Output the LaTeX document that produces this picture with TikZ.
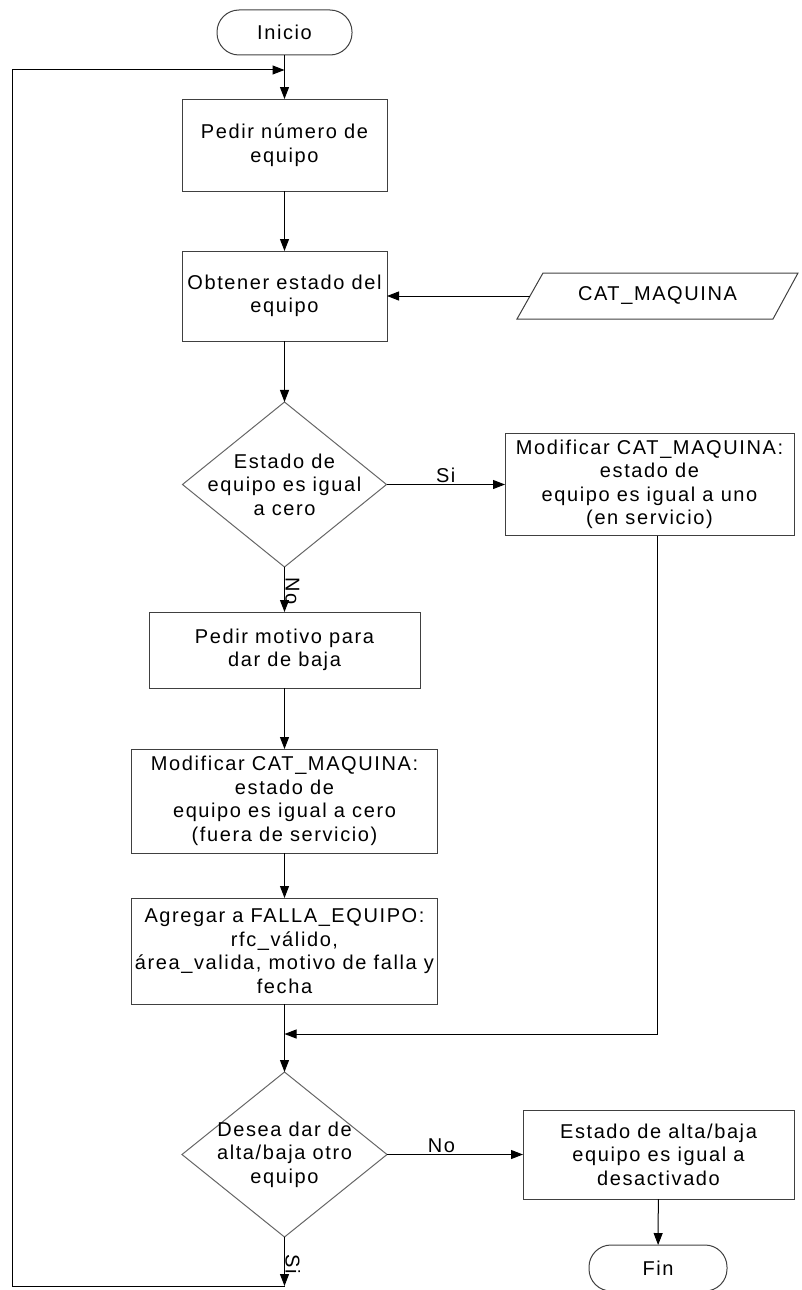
\documentclass[tikz,border=0pt]{standalone}
\usepackage{fontspec}
\setmainfont[LetterSpace=8]{Liberation Sans}
\usetikzlibrary{arrows.meta,shapes.geometric}
\begin{document}
\begin{tikzpicture}[
  x=1pt, y=-1pt,
  every node/.style={font=\fontsize{20pt}{23.5pt}\selectfont, outer sep=0pt},
  stepbox/.style={draw=black!75, line width=1pt, rectangle, align=center, inner sep=2pt},
  termbox/.style={draw=black!75, line width=1pt, rounded corners=22pt, align=center},
  decision/.style={draw=black!60, line width=1pt, diamond, inner sep=0pt},
  flow/.style={draw=black, line width=1pt},
  arr/.style={flow, -{Triangle[length=12pt,width=9pt]}},
  sidelbl/.style={rotate=-90, anchor=south, inner sep=1pt},
  toplbl/.style={above, inner sep=2pt}
]
\useasboundingbox (0,0) rectangle (801,1290);

% start and first steps
\node[termbox, minimum width=135pt, minimum height=45pt] (inicio) at (284.5,32.5) {Inicio};
\node[stepbox, minimum width=205pt, minimum height=92pt] (pedir) at (284.5,145) {Pedir número de\\equipo};
\node[stepbox, minimum width=205pt, minimum height=90pt] (obtener) at (284.5,296) {Obtener estado del\\equipo};

% data input
\draw[draw=black!75, line width=1pt] (543,273) -- (798,273) -- (773,319) -- (517,319) -- cycle;
\node (cat) at (657.5,296) {CAT\_MAQUINA};
\coordinate (catin) at (530,296);

% first decision
\node[decision, minimum width=204pt, minimum height=165pt] (d1) at (284.5,484.5) {};
\node[align=center] (d1t) at (d1) {Estado de\\equipo es igual\\a cero};
\node[stepbox, minimum width=289pt, minimum height=102pt] (alta) at (649.5,484.5) {Modificar CAT\_MAQUINA:\\estado de\\equipo es igual a uno\\(en servicio)};

% "No" branch
\node[stepbox, minimum width=271pt, minimum height=76pt] (motivo) at (284.5,650) {Pedir motivo para\\dar de baja};
\node[stepbox, minimum width=306pt, minimum height=104pt] (baja) at (284.5,801) {Modificar CAT\_MAQUINA:\\estado de\\equipo es igual a cero\\(fuera de servicio)};
\node[stepbox, minimum width=306pt, minimum height=106pt] (falla) at (284.5,951) {Agregar a FALLA\_EQUIPO:\\rfc\_válido,\\área\_valida, motivo de falla y\\fecha};

% second decision and end
\node[decision, minimum width=205pt, minimum height=165pt] (d2) at (284.5,1154.5) {};
\node[align=center] (d2t) at (d2) {Desea dar de\\alta/baja otro\\equipo};
\node[stepbox, minimum width=271pt, minimum height=89pt] (desact) at (658.5,1154.5) {Estado de alta/baja\\equipo es igual a\\desactivado};
\node[termbox, minimum width=138pt, minimum height=46pt] (fin) at (658,1268) {Fin};

% routing points
\coordinate (looptop) at (284.5,70);
\coordinate (loopleft) at (12,70);
\coordinate (loopbot) at (12,1286);
\coordinate (sibot) at (284.5,1286);
\coordinate (merge) at (284.5,1034);
\coordinate (mergeright) at (657,1034);

% connectors
\draw[arr] (inicio) -- (pedir);
\draw[arr] (pedir) -- (obtener);
\draw[arr] (catin) -- (obtener);
\draw[arr] (obtener) -- (d1);
\draw[arr] (d1) -- node[toplbl] {Si} (alta);
\draw[arr] (d1) -- node[sidelbl, pos=0.53] {No} (motivo);
\draw[arr] (motivo) -- (baja);
\draw[arr] (baja) -- (falla);
\draw[arr] (falla) -- (d2);
\draw[arr] (alta.south -| mergeright) -- (mergeright) -- (merge);
\draw[arr] (d2) -- node[toplbl, pos=0.4] {No} (desact);
\draw[arr] (desact) -- (fin);
\draw[arr] (d2) -- node[sidelbl, pos=0.55] {Si} (sibot);
\draw[flow] (sibot) -- (loopbot) -- (loopleft);
\draw[arr] (loopleft) -- (looptop);
\end{tikzpicture}
\end{document}
